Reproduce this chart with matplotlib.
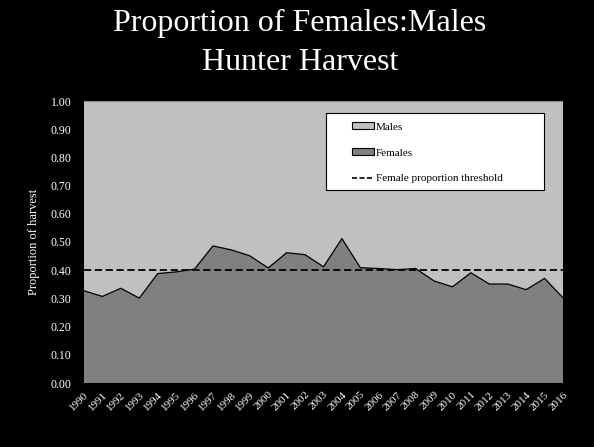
import matplotlib
matplotlib.use("Agg")
import matplotlib.pyplot as plt
from matplotlib.patches import Patch, Rectangle
from matplotlib.lines import Line2D

years = list(range(1990, 2017))
females = [0.327, 0.307, 0.336, 0.301, 0.388, 0.394, 0.404, 0.486, 0.472, 0.451,
           0.408, 0.462, 0.455, 0.412, 0.512, 0.409, 0.406, 0.402, 0.406, 0.362,
           0.341, 0.391, 0.351, 0.351, 0.331, 0.371, 0.302]
males = [1 - f for f in females]
threshold = 0.40
yticks = [0.0, 0.1, 0.2, 0.3, 0.4, 0.5, 0.6, 0.7, 0.8, 0.9, 1.0]

serif = ["Liberation Serif", "DejaVu Serif"]
plt.rcParams["font.family"] = serif

fig = plt.figure(figsize=(5.94, 4.47), dpi=100, facecolor="black")
ax = fig.add_axes([84/594, 1-383/447, 479/594, 282/447])
ax.set_facecolor("#c0c0c0")

x = list(range(len(years)))
ax.stackplot(x, females, males, colors=["#808080", "#c0c0c0"], linewidth=0)
ax.plot(x, females, color="black", linewidth=0.9)
ax.axhline(threshold, color="black", linestyle=(0, (4, 2)), linewidth=1.3)

ax.set_xlim(0, len(years) - 1)
ax.set_ylim(0, 1.0)
ax.set_yticks(yticks)
ax.set_yticklabels([f"{v:.2f}" for v in yticks], color="white", fontsize=8.5)
ax.set_xticks(x)
ax.set_xticklabels([str(y) for y in years], rotation=45, ha="right",
                   rotation_mode="anchor", color="white", fontsize=8)
ax.tick_params(length=0, pad=9)
ax.tick_params(axis="x", pad=5)
for s in ax.spines.values():
    s.set_visible(False)
ax.plot([0, len(years) - 1], [1.0, 1.0], color="#909090", linewidth=1)

ax.set_ylabel("Proportion of harvest", color="white", fontsize=9, labelpad=8)

# legend box
ax.add_patch(Rectangle((0.505, 0.684), 0.455, 0.273, transform=ax.transAxes,
                       facecolor="white", edgecolor="black", linewidth=0.8, zorder=5))
handles = [Patch(facecolor="#c0c0c0", edgecolor="black", linewidth=0.8),
           Patch(facecolor="#808080", edgecolor="black", linewidth=0.8),
           Line2D([0], [0], color="black", linestyle=(0, (3, 1.5)), linewidth=1.2)]
labels = ["Males", "Females", "Female proportion threshold"]
leg = ax.legend(handles, labels, loc="upper left", bbox_to_anchor=(0.55, 0.94),
                frameon=False, fontsize=8, handlelength=2.0, handleheight=0.6,
                handletextpad=0.15, labelspacing=1.47, borderaxespad=0)
leg.set_zorder(6)

fig.text(0.505, 1 - 23/447, "Proportion of Females:Males", color="white",
         fontsize=23, ha="center", va="center")
fig.text(0.505, 1 - 62/447, "Hunter Harvest", color="white",
         fontsize=23, ha="center", va="center")

fig.savefig("out.png", dpi=100, facecolor="black")
